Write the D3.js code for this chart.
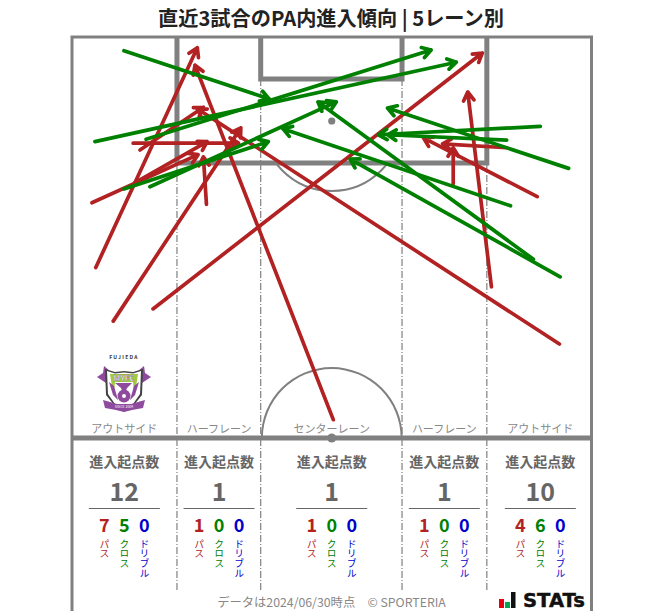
<!DOCTYPE html>
<html><head><meta charset="utf-8">
<script src="https://cdn.jsdelivr.net/npm/d3@7"></script>
<style>html,body{margin:0;padding:0;background:#fff}svg{display:block}text{font-family:"Noto Sans CJK JP","Noto Sans",sans-serif}</style>
</head><body><div id="c"></div>
<script>
const title = "直近3試合のPA内進入傾向 | 5レーン別";
const footer = "データは2024/06/30時点\u3000© SPORTERIA";
const laneNames = ["アウトサイド","ハーフレーン","センターレーン","ハーフレーン","アウトサイド"];
const laneTotals = [12,1,1,1,10];
const lanePass = [7,1,1,1,4];
const laneCross = [5,0,0,0,6];
const laneDribble = [0,0,0,0,0];
const kindNames = ["パス","クロス","ドリブル"];
// pitch metres [x0,y0,x1,y1] measured from the top-left corner
const passes = [
 [3.1,30.2,16.4,1.4],[5.4,37.2,22.1,11.9],[10.6,35.6,53.7,2.1],[2.6,21.7,16.5,15.4],
 [8.2,19.1,17.7,13.7],[8.0,13.9,21.8,13.9],[8.9,14.8,17.2,9.2],[17.6,21.9,17.2,15.7],
 [34.2,50.1,16.1,3.7],[49.9,19.2,49.9,14.5],[63.8,40.2,16.4,9.4],[54.9,32.7,51.8,7.2],
 [60.9,20.9,46.0,13.2],[56.9,14.5,48.5,14.0]];
const crosses = [
 [6.8,1.8,25.8,8.1],[3.0,13.7,50.3,3.3],[9.7,13.4,47.0,1.7],[6.8,19.9,25.7,13.7],
 [10.2,19.6,34.6,8.5],[60.4,29.1,32.2,8.5],[63.9,31.4,36.4,16.0],[57.4,22.1,27.6,12.0],
 [65.0,17.2,41.3,9.3],[61.3,11.7,40.1,12.8],[56.9,13.5,41.3,12.8]];
const laneEdges = [13.74,24.7,43.2,54.3];
const laneCenters = [6.85,19.25,34,48.73,61.3];
const PITCH_W = 68, HALF = 52.5, BOX_DEPTH = 16.5, GOAL_DEPTH = 5.5, SPOT = 11, CIRCLE = 9.15;

const RED="#b22222", GREEN="#008000", BLUE="#0000cd", GRAY="#808080", TXT="#666666";
const W=663,H=611;
const svg=d3.select("#c").append("svg").attr("width",W).attr("height",H).attr("viewBox",[0,0,W,H]);
const x=d3.scaleLinear().domain([0,PITCH_W]).range([72,591.5]);
const y=d3.scaleLinear().domain([0,HALF]).range([37,438]);
const r=d3.scaleLinear().domain([0,PITCH_W]).range([0,519.5]);
const BOT=590;

svg.append("text").attr("x",331).attr("y",26).attr("text-anchor","middle")
 .attr("font-size",20.2).attr("font-weight",700).attr("fill","#222").text(title);

// lane separators
svg.selectAll("line.lane").data(laneEdges).join("line").attr("class","lane")
 .attr("x1",d=>x(d)).attr("x2",d=>x(d))
 .attr("y1",(d,i)=>(i==0||i==3)?y(BOX_DEPTH):y(GOAL_DEPTH)).attr("y2",BOT)
 .attr("stroke",GRAY).attr("stroke-width",1.2).attr("stroke-dasharray","7 2 1 2");

// arcs
const arc=d3.arc();
svg.append("clipPath").attr("id","below").append("rect").attr("x",0).attr("y",y(BOX_DEPTH)).attr("width",W).attr("height",H);
svg.append("circle").attr("cx",x(34)).attr("cy",y(SPOT)).attr("r",r(CIRCLE)).attr("fill","none")
 .attr("stroke",GRAY).attr("stroke-width",2).attr("clip-path","url(#below)");
svg.append("path").attr("transform",`translate(${x(34)},${y(HALF)})`)
 .attr("d",arc({innerRadius:r(CIRCLE)-1,outerRadius:r(CIRCLE)+1,startAngle:-Math.PI/2,endAngle:Math.PI/2})).attr("fill",GRAY);

// boxes
const line=d3.line();
const box=(a,b,d,w)=>svg.append("path").attr("fill","none").attr("stroke",GRAY).attr("stroke-width",w)
 .attr("d",line([[x(a),y(0)],[x(a),y(d)],[x(b),y(d)],[x(b),y(0)]]));
box(laneEdges[0],laneEdges[3],BOX_DEPTH,5);
box(laneEdges[1],laneEdges[2],GOAL_DEPTH,5);
svg.append("circle").attr("cx",x(34)).attr("cy",y(SPOT)).attr("r",3.6).attr("fill",GRAY);

// outer frame
svg.append("path").attr("fill","none").attr("stroke",GRAY).attr("stroke-width",3)
 .attr("d",line([[x(0),H+3],[x(0),y(0)],[x(PITCH_W),y(0)],[x(PITCH_W),H+3]]));
svg.append("line").attr("x1",x(0)).attr("x2",x(PITCH_W)).attr("y1",y(HALF)).attr("y2",y(HALF)).attr("stroke",GRAY).attr("stroke-width",5);
svg.append("circle").attr("cx",x(34)).attr("cy",y(HALF)).attr("r",4.5).attr("fill",GRAY);

// arrows
function arrows(data,color){
 const g=svg.append("g").attr("fill","none").attr("stroke",color).attr("stroke-width",3.7).attr("stroke-linecap","round").attr("stroke-linejoin","round");
 g.selectAll("path").data(data).join("path").attr("d",d=>{
  const a=[x(d[0]),y(d[1])],b=[x(d[2]),y(d[3])];
  const th=Math.atan2(b[1]-a[1],b[0]-a[0]),L=10,sp=0.55;
  const p1=[b[0]-L*Math.cos(th-sp),b[1]-L*Math.sin(th-sp)],p2=[b[0]-L*Math.cos(th+sp),b[1]-L*Math.sin(th+sp)];
  return line([a,b])+"M"+p1+"L"+b+"L"+p2;
 });
}
arrows(passes,RED);
arrows(crosses,GREEN);

// lane panels
laneCenters.forEach((c,i)=>{
 const cx=x(c);
 const t=(s,yy,fs,fw,col)=>svg.append("text").attr("x",cx).attr("y",yy).attr("text-anchor","middle").attr("font-size",fs).attr("font-weight",fw).attr("fill",col).text(s);
 t(laneNames[i],433,11,400,"#888888");
 t("進入起点数",467,14,700,TXT);
 t(laneTotals[i],501,25,700,TXT);
 svg.append("line").attr("x1",cx-35.5).attr("x2",cx+35.5).attr("y1",508.5).attr("y2",508.5).attr("stroke",TXT).attr("stroke-width",1);
 [[lanePass,RED],[laneCross,GREEN],[laneDribble,BLUE]].forEach(([arr,col],k)=>{
  const kx=cx+(k-1)*20;
  svg.append("text").attr("x",kx).attr("y",532).attr("text-anchor","middle").attr("font-size",18).attr("font-weight",700).attr("fill",col).text(arr[i]);
  svg.append("text").attr("transform",`translate(${kx},539)`).style("writing-mode","vertical-rl").attr("text-anchor","start")
   .attr("font-size",9.8).attr("fill",col).text(kindNames[k]);
 });
});

svg.append("text").attr("x",331.5).attr("y",607).attr("text-anchor","middle").attr("font-size",12.3).attr("fill","#888888").text(footer);

// club crest
const crest=svg.append("g").attr("transform","translate(124,385)");
const P="#8e4a9c";
crest.append("text").attr("y",-26).attr("text-anchor","middle").attr("font-size",5).attr("font-weight",700).attr("letter-spacing",1.3).attr("fill","#333").text("FUJIEDA");
crest.append("path").attr("d","M-27,-8L-21,-12L-20,-19L-14,-14L-18,-2Z M27,-8L21,-12L20,-19L14,-14L18,-2Z").attr("fill",P);
crest.append("path").attr("d","M-19,-16L-9,-13L0,-14L9,-13L19,-16L18,10L10,20L0,27L-10,20L-18,10Z").attr("fill","#444");
crest.append("path").attr("d","M-17,-14L-9,-11.500L0,-12.500L9,-11.500L17,-14L16,9L9,19L0,25L-9,19L-16,9Z").attr("fill","#fff");
crest.append("path").attr("d","M-14,-11L0,-11L14,-11L11,8L6,15L-6,15L-11,8Z").attr("fill","#9ccc3c");
crest.append("path").attr("d","M-9,-3L9,-3L10,7L6,15L-6,15L-10,7Z").attr("fill","#fff");
crest.append("text").attr("y",-4).attr("text-anchor","middle").attr("font-size",8).attr("font-weight",700).attr("fill","#fff").attr("stroke",P).attr("stroke-width",0.3).text("MYFC");
crest.append("path").attr("d","M-9,-2L8,-2L3,3L1,8L-1,8L-3,3Z").attr("fill",P);
crest.append("path").attr("d","M-15,-3L-11,10L-6,15L-10,1Z M15,-3L11,10L6,15L10,1Z").attr("fill",P);
crest.append("circle").attr("cy",11).attr("r",6.5).attr("fill",P);
crest.append("circle").attr("cy",11).attr("r",2).attr("fill","#fff");
crest.append("path").attr("d","M-21,15L-7,19L7,19L21,15L19,23L8,25L0,27L-8,25L-19,23Z").attr("fill",P);
crest.append("text").attr("y",23).attr("text-anchor","middle").attr("font-size",3.5).attr("fill","#fff").text("SINCE 2009");

// stats logo
const logo=svg.append("g").attr("transform","translate(499,592)");
logo.append("rect").attr("x",0).attr("y",7).attr("width",5).attr("height",9).attr("fill","#e60012");
logo.append("rect").attr("x",6).attr("y",10).attr("width",5).attr("height",6).attr("fill","#00a651");
logo.append("rect").attr("x",12).attr("y",0).attr("width",4.500).attr("height",16).attr("fill","#111");
logo.append("text").attr("x",24).attr("y",15).attr("font-size",19).attr("font-weight",700).attr("textLength",62).attr("lengthAdjust","spacingAndGlyphs").attr("stroke","#111").attr("stroke-width",0.4).attr("fill","#111").style("font-family","'DejaVu Sans',sans-serif").text("STATs");
</script></body></html>
